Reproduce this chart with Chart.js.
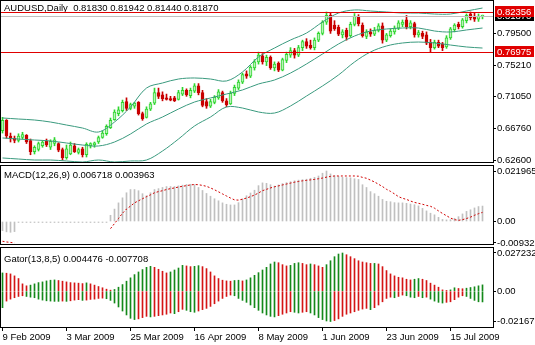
<!DOCTYPE html>
<html>
<head>
<meta charset="utf-8">
<title>AUDUSD Daily</title>
<script src="https://cdn.jsdelivr.net/npm/chart.js@4.4.0/dist/chart.umd.min.js"></script>
<style>
  html, body { margin: 0; padding: 0; background: #fff; }
  #wrap { position: relative; width: 535px; height: 345px; overflow: hidden; }
  canvas { position: absolute; left: 0; }
</style>
</head>
<body>
<div id="wrap">
  <canvas id="price" width="535" height="170" style="top:0"></canvas>
  <canvas id="macd" width="535" height="90" style="top:160px"></canvas>
  <canvas id="gator" width="535" height="103" style="top:242px"></canvas>
</div>
<script>
// daily bars, 9 Feb 2009 .. 27 Jul 2009
const opens = [0.665,0.679,0.658,0.655,0.652,0.656,0.659,0.652,0.637,0.640, 0.645,0.651,0.643,0.648,0.648,0.640,0.629,0.634,0.645,0.636,
  0.641,0.633,0.645,0.646,0.650,0.656,0.661,0.669,0.680,0.688, 0.692,0.704,0.695,0.698,0.703,0.688,0.683,0.694,0.702,0.716,
  0.713,0.709,0.708,0.709,0.707,0.714,0.719,0.712,0.718,0.725, 0.716,0.704,0.698,0.703,0.709,0.716,0.705,0.701,0.715,0.722,
  0.730,0.741,0.738,0.749,0.757,0.765,0.757,0.763,0.749,0.755, 0.746,0.759,0.766,0.772,0.766,0.776,0.784,0.779,0.776,0.786,
  0.795,0.810,0.819,0.806,0.803,0.793,0.799,0.792,0.807,0.817, 0.806,0.791,0.797,0.794,0.799,0.805,0.786,0.792,0.797,0.802,
  0.807,0.813,0.804,0.808,0.793,0.795,0.793,0.783,0.776,0.783, 0.781,0.777,0.789,0.800,0.807,0.804,0.812,0.821,0.818,0.814,
  0.8183];
const highs = [0.683,0.680,0.662,0.658,0.661,0.663,0.660,0.654,0.645,0.650, 0.652,0.654,0.653,0.656,0.649,0.642,0.646,0.650,0.648,0.642,
  0.643,0.649,0.649,0.650,0.658,0.665,0.673,0.682,0.693,0.697, 0.706,0.709,0.702,0.703,0.704,0.690,0.697,0.703,0.722,0.722,
  0.717,0.714,0.711,0.711,0.719,0.723,0.721,0.722,0.728,0.728, 0.719,0.708,0.707,0.712,0.720,0.718,0.708,0.718,0.726,0.733,
  0.742,0.745,0.752,0.760,0.770,0.768,0.766,0.765,0.757,0.757, 0.762,0.770,0.776,0.775,0.779,0.786,0.788,0.786,0.789,0.797,
  0.812,0.82356,0.823,0.812,0.806,0.800,0.802,0.810,0.8215,0.820, 0.809,0.800,0.801,0.803,0.808,0.809,0.795,0.801,0.805,0.812,
  0.813,0.819,0.812,0.810,0.799,0.798,0.797,0.787,0.786,0.786, 0.783,0.792,0.803,0.808,0.810,0.815,0.821,0.8236,0.823,0.821,
  0.81942];
const lows = [0.662,0.655,0.650,0.649,0.650,0.654,0.648,0.633,0.634,0.638, 0.643,0.644,0.640,0.645,0.637,0.626,0.627,0.633,0.636,0.634,
  0.630,0.630,0.642,0.643,0.648,0.655,0.659,0.668,0.679,0.685, 0.690,0.692,0.693,0.695,0.686,0.679,0.682,0.692,0.700,0.708,
  0.705,0.706,0.705,0.704,0.706,0.712,0.711,0.709,0.716,0.713, 0.697,0.695,0.696,0.701,0.707,0.703,0.697,0.700,0.712,0.720,
  0.728,0.735,0.736,0.746,0.754,0.754,0.752,0.747,0.745,0.744, 0.745,0.756,0.763,0.762,0.764,0.772,0.775,0.774,0.773,0.784,
  0.793,0.807,0.795,0.799,0.792,0.789,0.786,0.790,0.805,0.805, 0.790,0.788,0.791,0.792,0.797,0.782,0.784,0.790,0.794,0.800,
  0.804,0.801,0.801,0.790,0.790,0.788,0.780,0.76975,0.774,0.776, 0.772,0.775,0.787,0.797,0.801,0.802,0.809,0.813,0.811,0.811,
  0.8144];
const closes = [0.679,0.658,0.655,0.652,0.658,0.660,0.650,0.637,0.643,0.648, 0.650,0.646,0.651,0.653,0.639,0.629,0.641,0.646,0.637,0.640,
  0.633,0.647,0.648,0.649,0.656,0.662,0.671,0.679,0.690,0.693, 0.703,0.695,0.700,0.702,0.688,0.681,0.694,0.701,0.716,0.711,
  0.708,0.707,0.706,0.705,0.716,0.719,0.713,0.719,0.725,0.716, 0.699,0.698,0.704,0.710,0.717,0.705,0.700,0.715,0.723,0.730,
  0.740,0.738,0.750,0.757,0.766,0.757,0.763,0.749,0.754,0.746, 0.760,0.767,0.772,0.766,0.776,0.784,0.778,0.776,0.786,0.795,
  0.810,0.819,0.798,0.801,0.794,0.797,0.790,0.807,0.818,0.808, 0.792,0.797,0.794,0.799,0.805,0.786,0.793,0.798,0.802,0.809,
  0.810,0.804,0.809,0.793,0.796,0.791,0.782,0.776,0.783,0.778, 0.776,0.789,0.801,0.806,0.804,0.813,0.819,0.816,0.814,0.818,
  0.8187];

// Bollinger bands, read every 4th bar
const bandIdx = [0,4,8,12,16,20,24,28,32,36,40,44,48,52,56,60,64,68,72,76,80,84,88,92,96,100,104,108,112,116,120];
const bandUpper = [0.6821,0.6807,0.6794,0.6767,0.6727,0.6687,0.6634,0.6767,0.6968,0.7221, 0.7288,0.7341,0.7355,0.7341,0.7315,0.7435,0.7635,0.7755,0.7862,0.7955,
  0.8102,0.8222,0.8263,0.8249,0.8236,0.8222,0.8222,0.8209,0.8209,0.8249, 0.8289];
const bandMiddle = [0.6554,0.6540,0.6527,0.6514,0.6487,0.6460,0.6447,0.6500,0.6607,0.6741, 0.6834,0.6941,0.7034,0.7088,0.7141,0.7195,0.7275,0.7328,0.7421,0.7542,
  0.7675,0.7809,0.7915,0.7982,0.8009,0.8022,0.8022,0.7982,0.7969,0.7996, 0.8022];
const bandLower = [0.6287,0.6273,0.6260,0.6260,0.6247,0.6233,0.6260,0.6233,0.6247,0.6260, 0.6380,0.6540,0.6714,0.6834,0.6968,0.6954,0.6901,0.6887,0.6981,0.7114,
  0.7248,0.7395,0.7568,0.7702,0.7782,0.7822,0.7835,0.7822,0.7795,0.7769, 0.7755];

const macdMain = [-0.0040,-0.0045,-0.0047,-0.0044,
  -0.0002,-0.0002,-0.0002,-0.0002,-0.0002,-0.0002,-0.0002,-0.0002,-0.0002,-0.0002,-0.0002,-0.0002,
  -0.0002,-0.0002,-0.0002,-0.0002,-0.0002,-0.0002,-0.0002,-0.0002,-0.0002,-0.0002,-0.0002,
  0.0027,0.0054,0.0081,
  0.0103,0.0125,0.0139,0.0139,0.0134,0.0121,0.0112,0.0125,0.0139,0.0143,
  0.0148,0.0152,0.0152,0.0152,0.0155,0.0158,0.0161,0.0162,0.0160,0.0148,
  0.0135,0.0122,0.0110,0.0099,0.0090,0.0081,0.0075,0.0072,0.0072,0.0082,
  0.0098,0.0112,0.0124,0.0136,0.0156,0.0168,0.0166,0.0160,0.0154,0.0159,
  0.0165,0.0169,0.0173,0.0177,0.0180,0.0182,0.0184,0.0188,0.0192,0.0198,
  0.0210,0.021965,0.0207,0.0199,0.0196,0.0192,0.0191,0.0190,0.0186,0.0183,
  0.0160,0.0148,0.0130,0.0121,0.0110,0.0096,0.0088,0.0086,0.0082,0.0081,
  0.0081,0.0079,0.0076,0.0073,0.0068,0.0057,0.0046,0.0036,0.0029,0.0018,
  0.0009,0.0007,0.0008,0.0014,0.0021,0.0033,0.0044,0.0051,0.0059,0.0065,
  0.006718];
const macdSignal = [-0.0086,-0.0089,-0.0091,-0.00932,
  null,null,null,null,null,null,null,null,null,null,null,null,
  null,null,null,null,null,null,null,null,null,null,null,
  -0.0031,-0.0009,0.0013,
  0.0036,0.0054,0.0067,0.0081,0.0090,0.0099,0.0108,0.0116,0.0125,0.0130,
  0.0134,0.0139,0.0143,0.0146,0.0150,0.0153,0.0156,0.0159,0.0161,0.0160,
  0.0157,0.0153,0.0146,0.0138,0.0129,0.0120,0.0111,0.0102,0.0094,0.0093,
  0.0097,0.0102,0.0108,0.0115,0.0124,0.0134,0.0140,0.0146,0.0151,0.0155,
  0.0159,0.0163,0.0167,0.0171,0.0174,0.0177,0.0179,0.0181,0.0183,0.0186,
  0.0189,0.0193,0.0196,0.0198,0.0198,0.0198,0.0198,0.0198,0.0198,0.0197,
  0.0192,0.0188,0.0180,0.0172,0.0162,0.0152,0.0140,0.0131,0.0120,0.0108,
  0.0101,0.0096,0.0089,0.0083,0.0079,0.0075,0.0070,0.0066,0.0058,0.0046,
  0.0035,0.0025,0.0015,0.0008,0.0005,0.0008,0.0013,0.0019,0.0027,0.0034,
  0.003963];

const gatorUpper = [0.0130,0.0128,0.0123,0.0109,0.0090,0.0052,0.0038,0.0043,0.0052,0.0061,
  0.0066,0.0073,0.0078,0.0080,0.0076,0.0071,0.0066,0.0061,0.0059,0.0057,
  0.0054,0.0059,0.0052,0.0043,0.0033,0.0024,0.0014,0.0007,0.0012,0.0028,
  0.0047,0.0071,0.0095,0.0118,0.0137,0.0154,0.0170,0.0177,0.0170,0.0156,
  0.0142,0.0130,0.0137,0.0151,0.0165,0.0184,0.0180,0.0175,0.0177,0.0182,
  0.0175,0.0161,0.0137,0.0109,0.0090,0.0078,0.0073,0.0071,0.0076,0.0078,
  0.0073,0.0080,0.0095,0.0113,0.0132,0.0151,0.0170,0.0194,0.0208,0.0203,
  0.0189,0.0180,0.0184,0.0198,0.0203,0.0198,0.0189,0.0194,0.0189,0.0180,
  0.0170,0.0189,0.0217,0.0246,0.0265,0.027232,0.0260,0.0246,0.0232,0.0217,
  0.0208,0.0203,0.0198,0.0198,0.0194,0.0175,0.0147,0.0123,0.0109,0.0099,
  0.0095,0.0085,0.0080,0.0085,0.0090,0.0085,0.0076,0.0057,0.0043,0.0028,
  0.0009,0.0005,0.0009,0.0024,0.0019,0.0017,0.0021,0.0026,0.0031,0.0038,
  0.004476];
const gatorLower = [-0.0118,-0.0071,-0.0057,-0.0047,-0.0038,-0.0033,-0.0038,-0.0043,-0.0047,-0.0057,
  -0.0064,-0.0069,-0.0071,-0.0073,-0.0073,-0.0071,-0.0073,-0.0069,-0.0064,-0.0061,
  -0.0066,-0.0064,-0.0059,-0.0057,-0.0052,-0.0050,-0.0054,-0.0066,-0.0085,-0.0113,
  -0.0142,-0.0170,-0.0194,-0.0203,-0.0198,-0.0189,-0.0180,-0.0184,-0.0180,-0.0175,
  -0.0170,-0.0165,-0.0156,-0.0161,-0.0147,-0.0130,-0.0137,-0.0147,-0.0151,-0.0142,
  -0.0132,-0.0123,-0.0109,-0.0090,-0.0071,-0.0052,-0.0038,-0.0028,-0.0033,-0.0052,
  -0.0066,-0.0080,-0.0099,-0.0118,-0.0137,-0.0156,-0.0170,-0.0180,-0.0184,-0.0175,
  -0.0165,-0.0156,-0.0147,-0.0151,-0.0156,-0.0151,-0.0147,-0.0156,-0.0170,-0.0189,
  -0.0203,-0.0213,-0.02167,-0.0210,-0.0198,-0.0180,-0.0165,-0.0156,-0.0147,-0.0137,
  -0.0128,-0.0123,-0.0132,-0.0118,-0.0099,-0.0076,-0.0052,-0.0043,-0.0047,-0.0038,
  -0.0028,-0.0033,-0.0043,-0.0047,-0.0038,-0.0047,-0.0043,-0.0057,-0.0071,-0.0080,
  -0.0085,-0.0080,-0.0076,-0.0061,-0.0043,-0.0033,-0.0038,-0.0052,-0.0066,-0.0076,
  -0.007708];

// one date label every 16 bars
const tickLabels = ['9 Feb 2009','3 Mar 2009','25 Mar 2009','16 Apr 2009','8 May 2009','1 Jun 2009','23 Jun 2009','15 Jul 2009'];
const priceTicks = [0.62600, 0.66760, 0.71050, 0.75210, 0.79500];
const levelPrices = [0.82356, 0.76975];
const macdTicks = [0.021965, 0, -0.00932];
const gatorTicks = [0.027232, 0, -0.02167];

const FONT = "'Liberation Sans', Arial, sans-serif";
Chart.defaults.font.family = FONT;
Chart.defaults.font.size = 9.5;
Chart.defaults.color = '#000';

const last = closes.length - 1;
const bid = closes[last];
const bull = '#2fd62f', bullFill = '#b9f3b9', bear = '#c80000';
const levelColor = '#e00000';
const bandColor = '#3a9a7e';
const gUp = '#14891a', gDown = '#d41515';

const pts = arr => arr.map((v, i) => ({x: i, y: v}));

function xAxis(show) {
  return {
    type: 'linear', min: -0.375, max: 122.625, offset: false, display: show,
    afterBuildTicks: s => { s.ticks = tickLabels.map((t, k) => ({value: k * 16})); },
    afterFit: s => {
      if (!show) return;
      s.height = 18; s.paddingLeft = 0; s.paddingRight = 0;
    },
    grid: {offset: false, drawOnChartArea: false, drawTicks: true, tickLength: 4, color: '#000'},
    border: {display: false},
    ticks: {autoSkip: false, maxRotation: 0, align: 'start', padding: 1, callback: (v, k) => tickLabels[k]}
  };
}

function yAxis(min, max, values, fmt) {
  return {
    position: 'right', min: min, max: max,
    afterBuildTicks: s => { s.ticks = values.map(v => ({value: v})); },
    afterFit: s => { s.width = 42; s.paddingTop = 0; s.paddingBottom = 0; },
    grid: {drawOnChartArea: false, drawTicks: true, tickLength: 3, color: '#000'},
    border: {display: false},
    ticks: {autoSkip: false, padding: 1, callback: fmt}
  };
}

// box around each plot area
const frame = {
  id: 'frame',
  afterDraw(chart) {
    const {ctx, chartArea: a} = chart;
    ctx.save();
    ctx.strokeStyle = '#000';
    ctx.lineWidth = 1;
    ctx.strokeRect(a.left - 0.5, a.top - 0.5, a.right - a.left + 1, a.bottom - a.top + 1);
    ctx.restore();
  }
};

// indicator name and values in the top-left corner
const caption = {
  id: 'caption',
  beforeDatasetsDraw(chart, args, opts) {
    const {ctx, chartArea: a} = chart;
    ctx.save();
    ctx.font = '9.5px ' + FONT;
    ctx.fillStyle = '#000';
    ctx.textBaseline = 'middle';
    ctx.fillText(opts.text, a.left + 3, a.top + opts.dy);
    ctx.restore();
  }
};

// bid line, horizontal levels and their price tags
const levels = {
  id: 'levels',
  afterDatasetsDraw(chart) {
    const {ctx, chartArea: a, scales: {y}} = chart;
    ctx.save();
    ctx.lineWidth = 1;
    const hline = (v, color) => {
      const py = Math.round(y.getPixelForValue(v)) + 0.5;
      ctx.strokeStyle = color;
      ctx.beginPath();
      ctx.moveTo(a.left, py);
      ctx.lineTo(a.right, py);
      ctx.stroke();
    };
    hline(bid, '#c0c0c0');
    levelPrices.forEach(v => hline(v, levelColor));
    ctx.restore();
  },
  afterDraw(chart) {
    const {ctx, chartArea: a, scales: {y}} = chart;
    const tag = (v, bg) => {
      const py = Math.round(y.getPixelForValue(v));
      ctx.fillStyle = bg;
      ctx.fillRect(a.right + 2, py - 6, 39, 11);
      ctx.fillStyle = '#fff';
      ctx.fillText(v.toFixed(5), a.right + 4, py);
    };
    ctx.save();
    ctx.font = '9.5px ' + FONT;
    ctx.textBaseline = 'middle';
    tag(bid, '#000');
    levelPrices.forEach(v => tag(v, levelColor));
    ctx.restore();
  }
};

const base = {
  responsive: false, animation: false, events: [], devicePixelRatio: 1
};

const band = arr => ({
  type: 'line', data: bandIdx.map((b, k) => ({x: b, y: arr[k]})),
  borderColor: bandColor, borderWidth: 1, pointRadius: 0, tension: 0.35, fill: false, order: 1
});

new Chart(document.getElementById('price'), {
  type: 'bar',
  data: {datasets: [
    band(bandUpper), band(bandMiddle), band(bandLower),
    {
      data: closes.map((c, i) => ({x: i, y: [opens[i], c]})),
      backgroundColor: closes.map((c, i) => c >= opens[i] ? bullFill : bear),
      borderColor: closes.map((c, i) => c >= opens[i] ? bull : bear),
      borderWidth: 1, borderSkipped: false, barThickness: 3, grouped: false, minBarLength: 1, order: 2
    },
    {
      data: closes.map((c, i) => ({x: i, y: [lows[i], highs[i]]})),
      backgroundColor: closes.map((c, i) => c >= opens[i] ? bull : bear),
      barThickness: 1, grouped: false, order: 3
    }
  ]},
  options: Object.assign({}, base, {
    layout: {padding: {left: 1, top: 1, right: 0, bottom: 8}},
    scales: {
      x: xAxis(false),
      y: yAxis(0.62333, 0.83827, priceTicks, v => v.toFixed(5))
    },
    plugins: {
      legend: {display: false}, tooltip: {enabled: false},
      caption: {
        text: 'AUDUSD,Daily  ' + [opens[last], highs[last], lows[last], closes[last]].map(v => v.toFixed(5)).join(' '),
        dy: 7
      }
    }
  }),
  plugins: [caption, levels, frame]
});

new Chart(document.getElementById('macd'), {
  type: 'bar',
  data: {datasets: [
    {data: pts(macdMain), backgroundColor: '#c0c0c0', barThickness: 1, grouped: false, minBarLength: 1, order: 2},
    {type: 'line', data: pts(macdSignal), borderColor: '#d00000', borderWidth: 1, borderDash: [2, 2],
     pointRadius: 0, spanGaps: false, fill: false, order: 1}
  ]},
  options: Object.assign({}, base, {
    layout: {padding: {left: 1, top: 6, right: 0, bottom: 6}},
    scales: {
      x: xAxis(false),
      y: yAxis(-0.00979, 0.02414, macdTicks, v => v === 0 ? '0.00' : String(v))
    },
    plugins: {
      legend: {display: false}, tooltip: {enabled: false},
      caption: {text: 'MACD(12,26,9) ' + macdMain[last].toFixed(6) + ' ' + macdSignal[last].toFixed(6), dy: 9}
    }
  }),
  plugins: [caption, frame]
});

// gator bars are green while growing, red while shrinking
const gatorColor = arr => ctx => {
  const i = ctx.dataIndex;
  return i === 0 || Math.abs(arr[i]) >= Math.abs(arr[i - 1]) ? gUp : gDown;
};

new Chart(document.getElementById('gator'), {
  type: 'bar',
  data: {datasets: [
    {data: pts(gatorUpper), backgroundColor: gatorColor(gatorUpper), barThickness: 1, grouped: false},
    {data: pts(gatorLower), backgroundColor: gatorColor(gatorLower), barThickness: 1, grouped: false}
  ]},
  options: Object.assign({}, base, {
    layout: {padding: {left: 1, top: 6, right: 0, bottom: 0}},
    scales: {
      x: xAxis(true),
      y: yAxis(-0.0256, 0.0308, gatorTicks, v => v === 0 ? '0.00' : String(v))
    },
    plugins: {
      legend: {display: false}, tooltip: {enabled: false},
      caption: {text: 'Gator(13,8,5) ' + gatorUpper[last].toFixed(6) + ' ' + gatorLower[last].toFixed(6), dy: 11}
    }
  }),
  plugins: [caption, frame]
});
</script>
</body>
</html>
